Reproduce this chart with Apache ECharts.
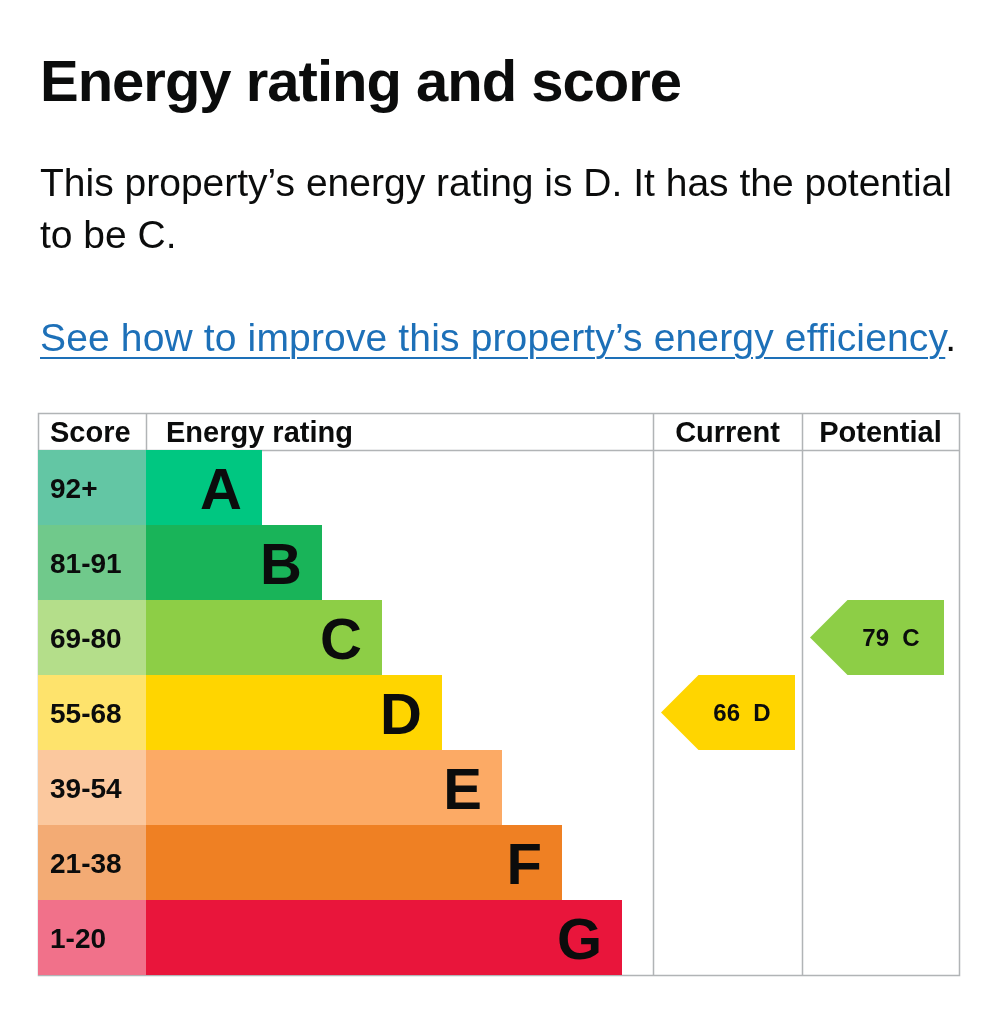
<!DOCTYPE html>
<html>
<head>
<meta charset="utf-8">
<script src="https://cdn.jsdelivr.net/npm/echarts@6/dist/echarts.min.js"></script>
<style>
  html, body { margin: 0; padding: 0; background: #fff; }
  body { width: 998px; height: 1024px; position: relative; overflow: hidden;
         font-family: "Liberation Sans", Arial, sans-serif; color: #0b0c0c; }
  #epc { position: absolute; left: 0; top: 0; width: 998px; height: 1024px; }
  .txt { position: absolute; left: 40px; margin: 0; z-index: 2; white-space: nowrap; }
  h1.txt { top: 52px; font-size: 58px; line-height: 58px; font-weight: bold; letter-spacing: -1px; }
  p.lead { top: 157px; font-size: 39px; line-height: 52px; font-weight: normal; }
  p.more { top: 312px; font-size: 39px; line-height: 52px; letter-spacing: 0.15px; }
  p.more a { color: #1d70b8; text-decoration: underline; text-decoration-thickness: 2px; text-underline-offset: 6px; }
</style>
</head>
<body>
<h1 class="txt">Energy rating and score</h1>
<p class="txt lead">This property’s energy rating is D. It has the potential<br>to be C.</p>
<p class="txt more"><a href="#">See how to improve this property’s energy efficiency</a>.</p>
<div id="epc"></div>
<script>
// bands, top to bottom
var bands = ['A', 'B', 'C', 'D', 'E', 'F', 'G'];
var scoreRanges = ['92+', '81-91', '69-80', '55-68', '39-54', '21-38', '1-20'];
var bandLengths = [116, 176, 236, 296, 356, 416, 476]; // out of 507
var bandColors = ['#00c781', '#19b459', '#8dce46', '#ffd500', '#fcaa65', '#ef8023', '#e9153b'];
var scoreColors = ['#63c6a4', '#70c98b', '#b4de8a', '#fee36c', '#fbc89e', '#f3ab74', '#f1718a'];
var headers = ['Score', 'Energy rating', 'Current', 'Potential'];

var currentScore = 66, currentBand = 'D';
var potentialScore = 79, potentialBand = 'C';

// table layout
var tableLeft = 38, tableTop = 413, headH = 37, bodyH = 525;
var colW = [108, 507, 149, 157];
var colX = [tableLeft];
for (var i = 0; i < colW.length; i++) colX.push(colX[i] + colW[i]);
var bodyTop = tableTop + headH;
var lineColor = '#b1b4b6';
var font = '"Liberation Sans", Arial, sans-serif';

var chart = echarts.init(document.getElementById('epc'));

function grid(i) {
    return { left: colX[i], top: bodyTop, width: colW[i], height: bodyH, outerBoundsMode: 'none' };
}
function xAx(i, max) {
    return { type: 'value', gridIndex: i, min: 0, max: max, show: false };
}
function yAx(i) {
    return { type: 'category', gridIndex: i, data: bands, inverse: true, show: false };
}

function arrowItem(params, api) {
    var cs = params.coordSys;
    var y = api.coord([0, api.value(1)])[1];
    var h = api.size([0, 1])[1];
    var left = cs.x + 8, right = left + 134;
    return {
        type: 'group',
        children: [{
            type: 'polygon',
            shape: { points: [[left, y], [left + h / 2, y - h / 2], [right, y - h / 2], [right, y + h / 2], [left + h / 2, y + h / 2]] },
            style: { fill: bandColors[api.value(1)] }
        }, {
            type: 'text',
            style: {
                text: api.value(2) + '  ' + bands[api.value(1)],
                x: right - 53, y: y + 2, align: 'center', verticalAlign: 'middle',
                font: 'bold 24px ' + font, fill: '#0b0c0c'
            }
        }]
    };
}

var headerText = headers.map(function (t, i) {
    var centered = i >= 2;
    return {
        type: 'text', z: 10,
        x: centered ? colX[i] + colW[i] / 2 : colX[i] + (i === 0 ? 12 : 20),
        y: tableTop + headH / 2 + 2,
        style: { text: t, font: 'bold 29px ' + font, fill: '#0b0c0c',
                 align: centered ? 'center' : 'left', verticalAlign: 'middle' }
    };
});

var right = colX[4];
var lines = [
    { type: 'rect', z: 0, shape: { x: tableLeft + 0.5, y: tableTop + 0.5, width: right - tableLeft, height: headH + bodyH },
      style: { fill: 'none', stroke: lineColor, lineWidth: 1.5 } },
    { type: 'line', z: 0, shape: { x1: tableLeft, y1: bodyTop + 0.5, x2: right, y2: bodyTop + 0.5 }, style: { stroke: lineColor, lineWidth: 1.5 } },
    { type: 'line', z: 0, shape: { x1: colX[1] + 0.5, y1: tableTop, x2: colX[1] + 0.5, y2: bodyTop }, style: { stroke: lineColor, lineWidth: 1.5 } },
    { type: 'line', z: 0, shape: { x1: colX[2] + 0.5, y1: tableTop, x2: colX[2] + 0.5, y2: bodyTop + bodyH }, style: { stroke: lineColor, lineWidth: 1.5 } },
    { type: 'line', z: 0, shape: { x1: colX[3] + 0.5, y1: tableTop, x2: colX[3] + 0.5, y2: bodyTop + bodyH }, style: { stroke: lineColor, lineWidth: 1.5 } }
];

var option = {
    animation: false,
    backgroundColor: 'transparent',
    grid: [grid(0), grid(1), grid(2), grid(3)],
    xAxis: [xAx(0, 1), xAx(1, 507), xAx(2, 1), xAx(3, 1)],
    yAxis: [yAx(0), yAx(1), yAx(2), yAx(3)],
    graphic: lines.concat(headerText),
    series: [{
        type: 'bar', xAxisIndex: 0, yAxisIndex: 0, z: 3,
        barWidth: '100%',
        data: scoreRanges.map(function (s, i) {
            return { value: 1, name: s, itemStyle: { color: scoreColors[i] } };
        }),
        label: { show: true, position: 'insideLeft', distance: 12, offset: [0, 3], formatter: '{b}',
                 fontFamily: font, fontSize: 28, fontWeight: 'bold', color: '#0b0c0c' }
    }, {
        type: 'bar', xAxisIndex: 1, yAxisIndex: 1, z: 3,
        barWidth: '100%',
        data: bandLengths.map(function (v, i) {
            return { value: v, name: bands[i], itemStyle: { color: bandColors[i] } };
        }),
        label: { show: true, position: 'insideRight', distance: 20, offset: [0, 5], formatter: '{b}',
                 fontFamily: font, fontSize: 58, fontWeight: 'bold', color: '#0b0c0c' }
    }, {
        type: 'custom', xAxisIndex: 2, yAxisIndex: 2, z: 3,
        renderItem: arrowItem,
        data: [[0, bands.indexOf(currentBand), currentScore]]
    }, {
        type: 'custom', xAxisIndex: 3, yAxisIndex: 3, z: 3,
        renderItem: arrowItem,
        data: [[0, bands.indexOf(potentialBand), potentialScore]]
    }]
};

chart.setOption(option);
</script>
</body>
</html>
